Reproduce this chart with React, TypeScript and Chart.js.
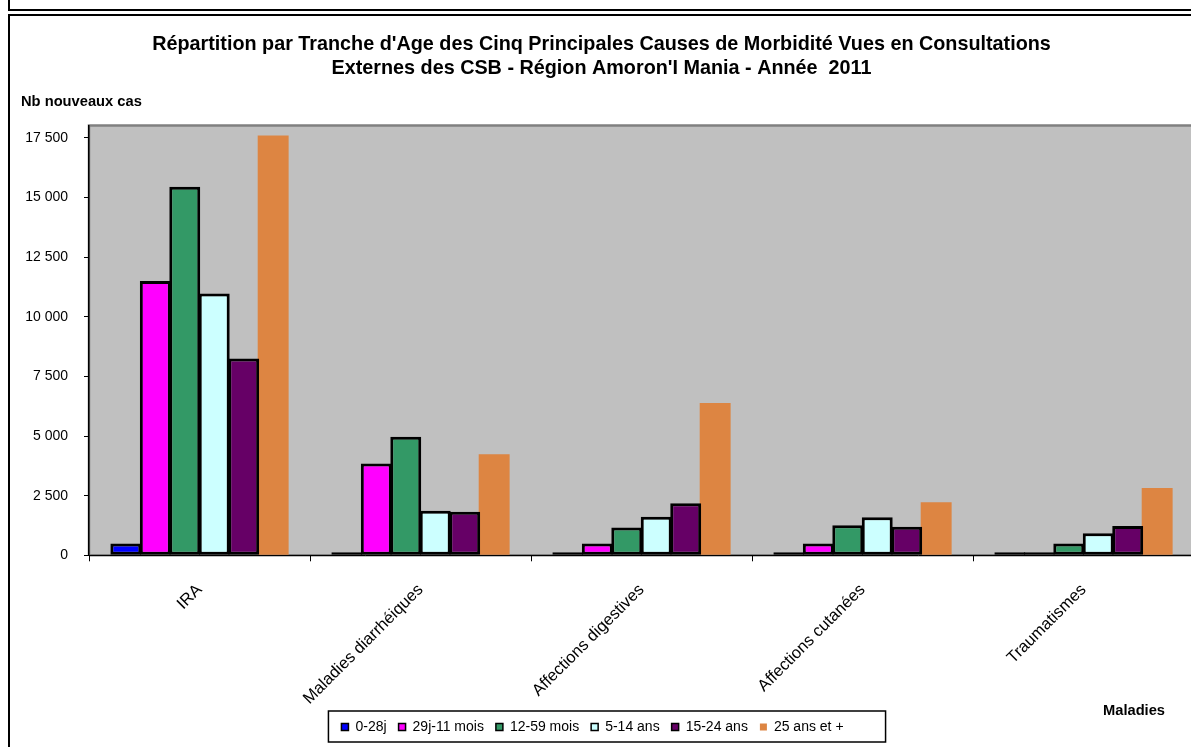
import { useEffect, useRef } from 'react';
import { Chart, registerables } from 'chart.js';

Chart.register(...registerables);

// ---- Data ----
const categories = ['IRA', 'Maladies diarrhéiques', 'Affections digestives', 'Affections cutanées', 'Traumatismes'];
const seriesLabels = ['0-28j', '29j-11 mois', '12-59 mois', '5-14 ans', '15-24 ans', '25 ans et +'];
const s0to28j = [490, 60, 60, 40, 10];
const s29jto11mois = [11500, 3850, 500, 500, 80];
const s12to59mois = [15450, 4970, 1170, 1260, 490];
const s5to14ans = [10980, 1870, 1620, 1595, 920];
const s15to24ans = [8250, 1830, 2180, 1200, 1230];
const s25ansPlus = [17600, 4240, 6390, 2225, 2825];
const yTickValues = [0, 2500, 5000, 7500, 10000, 12500, 15000, 17500];
const yMax = 18000;
const titleLines = [
  "Répartition par Tranche d'Age des Cinq Principales Causes de Morbidité Vues en Consultations",
  "Externes des CSB - Région Amoron'I Mania - Année  2011",
];
const yAxisTitle = 'Nb nouveaux cas';
const xAxisTitle = 'Maladies';

const FONT = 'Arial, "Liberation Sans", sans-serif';
const seriesColors = ['#0000FF', '#FF00FF', '#339966', '#CCFFFF', '#660066', '#DD8542'];

function fmt(v: number): string {
  const s = String(Math.round(v));
  return s.replace(/\B(?=(\d{3})+(?!\d))/g, ' ');
}

export default function App() {
  const ref = useRef<HTMLCanvasElement | null>(null);

  useEffect(() => {
    const canvas = ref.current;
    if (!canvas) return;
    const series = [s0to28j, s29jto11mois, s12to59mois, s5to14ans, s15to24ans, s25ansPlus];
    const datasets = series.map((d, i) => {
      const bordered = i !== 5;
      return {
        label: seriesLabels[i],
        data: d,
        backgroundColor: seriesColors[i],
        borderColor: bordered ? '#000000' : seriesColors[i],
        borderWidth: bordered ? 3 : 0,
        borderSkipped: false as const,
        minBarLength: bordered ? 3 : 0,
        categoryPercentage: 0.8,
        barPercentage: 1.05,
      };
    });

    const deco = {
      id: 'deco',
      afterLayout(chart: any) {
        const lg = chart.legend;
        if (lg) {
          lg.left -= 9;
          lg.right -= 9;
        }
      },
      beforeDraw(chart: any) {
        const { ctx, chartArea: a } = chart;
        ctx.save();
        ctx.fillStyle = '#ffffff';
        ctx.fillRect(0, 0, chart.width, chart.height);
        ctx.strokeStyle = '#000000';
        ctx.lineWidth = 2;
        ctx.beginPath();
        ctx.moveTo(9, 0);
        ctx.lineTo(9, 10);
        ctx.lineTo(chart.width, 10);
        ctx.moveTo(chart.width, 15);
        ctx.lineTo(9, 15);
        ctx.lineTo(9, 747);
        ctx.stroke();
        ctx.fillStyle = '#C0C0C0';
        ctx.fillRect(a.left, a.top, a.right - a.left, a.bottom - a.top);
        ctx.strokeStyle = '#808080';
        ctx.lineWidth = 2.5;
        ctx.beginPath();
        ctx.moveTo(a.left, a.bottom);
        ctx.lineTo(a.left, a.top - 0.5);
        ctx.lineTo(a.right + 2, a.top - 0.5);
        ctx.moveTo(a.left, a.bottom);
        ctx.lineTo(a.right + 2, a.bottom);
        ctx.stroke();
        ctx.restore();
      },
      afterDraw(chart: any) {
        const { ctx } = chart;
        ctx.save();
        ctx.fillStyle = '#000000';
        ctx.font = `bold 14.7px ${FONT}`;
        ctx.textBaseline = 'middle';
        ctx.textAlign = 'left';
        ctx.fillText(yAxisTitle, 21, 102);
        ctx.fillText(xAxisTitle, 1103, 711);
        const hb = chart.legend && chart.legend.legendHitBoxes;
        if (hb && hb.length) {
          const first = hb[0];
          const last = hb[hb.length - 1];
          const cy = first.top + first.height / 2;
          ctx.strokeStyle = '#000000';
          ctx.lineWidth = 1.5;
          ctx.strokeRect(first.left - 13, cy - 16, last.left + last.width + 42 - (first.left - 13), 31);
        }
        ctx.restore();
      },
    };

    const chart = new Chart(canvas, {
      type: 'bar',
      data: { labels: categories, datasets: datasets as any },
      options: {
        animation: false,
        responsive: false,
        events: [],
        layout: { padding: { left: 9, right: 0, top: 0, bottom: 3 } },
        plugins: {
          title: {
            display: true,
            text: titleLines,
            color: '#000000',
            font: { family: FONT, size: 19.8, weight: 'bold', lineHeight: '23.3px' as any },
            padding: { top: 33.2, bottom: 46.2 },
          },
          legend: {
            position: 'bottom',
            labels: {
              color: '#000000',
              font: { family: FONT, size: 14 },
              boxWidth: 7,
              boxHeight: 7,
              padding: 12,
              generateLabels: (c: any) =>
                (Chart.defaults.plugins.legend.labels.generateLabels as any)(c).map((l: any) => ({
                  ...l,
                  lineWidth: l.datasetIndex === 5 ? 0 : 1.5,
                  strokeStyle: l.datasetIndex === 5 ? seriesColors[5] : '#000000',
                })),
            },
          },
          tooltip: { enabled: false },
        },
        scales: {
          x: {
            grid: { display: true, drawOnChartArea: false, drawTicks: true, tickLength: 6, tickColor: '#000000', offset: true },
            border: { display: true, color: '#000000', width: 1 },
            ticks: { color: '#000000', font: { family: FONT, size: 16.5 }, minRotation: 45, maxRotation: 45, padding: 19, autoSkip: false },
            afterFit: (s: any) => { s.height = 152.7; },
          },
          y: {
            min: 0,
            max: yMax,
            afterBuildTicks: (s: any) => { s.ticks = yTickValues.map((v) => ({ value: v })); },
            grid: { display: true, drawOnChartArea: false, drawTicks: true, tickLength: 5, tickColor: '#000000' },
            border: { display: true, color: '#000000', width: 1.5 },
            ticks: { color: '#000000', font: { family: FONT, size: 14 }, padding: 16, callback: (v: any) => fmt(Number(v)) },
            afterFit: (s: any) => { s.width = 80; },
          },
        },
      },
      plugins: [deco],
    });
    return () => chart.destroy();
  }, []);

  return (
    <div style={{ position: 'absolute', left: 0, top: 0, width: 1191, height: 747, overflow: 'hidden', background: '#fff' }}>
      <canvas ref={ref} width={1194} height={747} style={{ display: 'block' }} />
    </div>
  );
}
